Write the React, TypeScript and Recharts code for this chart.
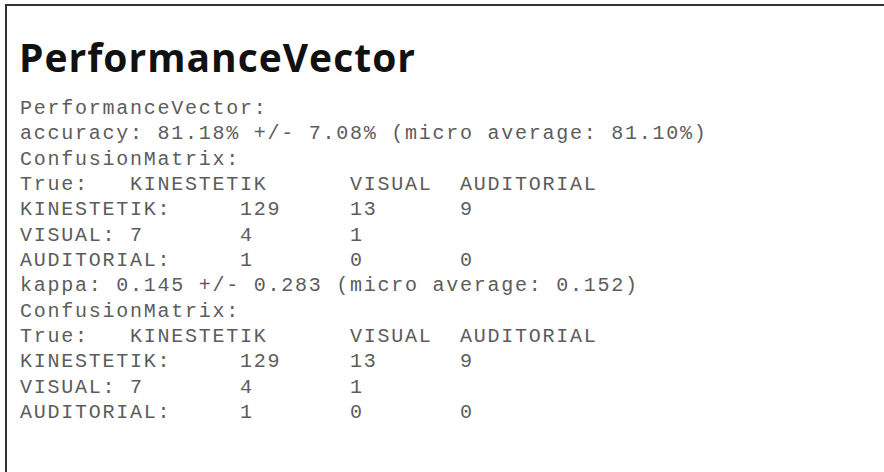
import React from "react";
import { ScatterChart, Scatter, XAxis, YAxis } from "recharts";

const title = "PerformanceVector";
const classes = ["KINESTETIK", "VISUAL", "AUDITORIAL"];
const matrix = [
  [129, 13, 9],
  [7, 4, 1],
  [1, 0, 0],
];
const accuracy = ["81.18%", "7.08%", "81.10%"];
const kappa = ["0.145", "0.283", "0.152"];

const W = 884;
const H = 472;
const CHAR_W = 13.75;
const TAB = 8;
const COLS = 62;

const matrixLines = () => [
  "ConfusionMatrix:",
  "True:\t" + classes.join("\t"),
  ...classes.map((c, i) => `${c}:\t${matrix[i].join("\t")}`),
];

const lines = [
  `${title}:`,
  `accuracy: ${accuracy[0]} +/- ${accuracy[1]} (micro average: ${accuracy[2]})`,
  ...matrixLines(),
  `kappa: ${kappa[0]} +/- ${kappa[1]} (micro average: ${kappa[2]})`,
  ...matrixLines(),
];

// split every line on tabs, tab stops every 8 columns
const cells = lines.flatMap((line, row) => {
  let col = 0;
  return line.split("\t").map((text, i) => {
    if (i > 0) col = (Math.floor(col / TAB) + 1) * TAB;
    const cell = { col, row, text };
    col += text.length;
    return cell;
  });
});

const CellText = (props: any) => {
  const { cx, cy, payload } = props;
  return (
    <text
      x={cx}
      y={cy}
      xmlSpace="preserve"
      fontFamily="'Liberation Mono', 'Courier New', monospace"
      fontSize={20}
      letterSpacing={1.75}
      fill="#5c5c5c"
    >
      {payload.text}
    </text>
  );
};

export default function App() {
  const top = 114;
  const bottom = 418;
  return (
    <div style={{ position: "absolute", left: 0, top: 0, width: W, height: H, background: "#fff" }}>
      <div style={{ position: "absolute", left: 5, top: 4, width: W - 5, height: 2, background: "#333" }} />
      <div style={{ position: "absolute", left: 5, top: 4, width: 2, height: H - 4, background: "#333" }} />
      <div
        style={{
          position: "absolute",
          left: 19,
          top: 33,
          fontFamily: "'Open Sans', sans-serif",
          fontWeight: 700,
          fontSize: 39,
          letterSpacing: 1,
          lineHeight: "48px",
          color: "#111",
        }}
      >
        {title}
      </div>
      <div style={{ position: "absolute", left: 0, top: 0 }}>
        <ScatterChart
          width={W}
          height={H}
          margin={{ left: 20, top, right: W - 20 - COLS * CHAR_W, bottom: H - bottom }}
        >
          <XAxis type="number" dataKey="col" domain={[0, COLS]} hide />
          <YAxis type="number" dataKey="row" domain={[0, lines.length - 1]} reversed hide />
          <Scatter data={cells} shape={CellText} isAnimationActive={false} />
        </ScatterChart>
      </div>
    </div>
  );
}
